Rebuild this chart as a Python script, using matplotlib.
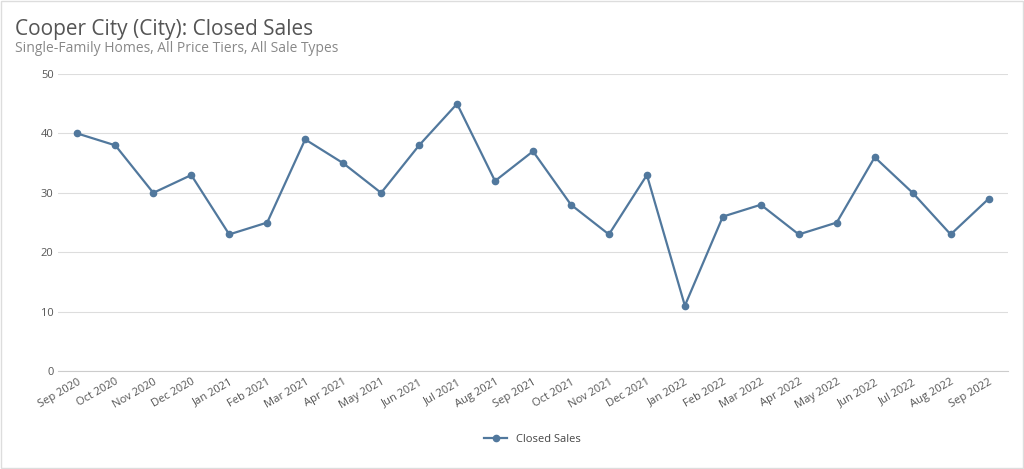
import matplotlib.pyplot as plt

months = ["Sep 2020", "Oct 2020", "Nov 2020", "Dec 2020", "Jan 2021", "Feb 2021", "Mar 2021",
          "Apr 2021", "May 2021", "Jun 2021", "Jul 2021", "Aug 2021", "Sep 2021", "Oct 2021",
          "Nov 2021", "Dec 2021", "Jan 2022", "Feb 2022", "Mar 2022", "Apr 2022", "May 2022",
          "Jun 2022", "Jul 2022", "Aug 2022", "Sep 2022"]
closed_sales = [40, 38, 30, 33, 23, 25, 39, 35, 30, 38, 45, 32, 37, 28, 23, 33, 11, 26, 28, 23,
                25, 36, 30, 23, 29]
y_ticks = [0, 10, 20, 30, 40, 50]

plt.rcParams["font.family"] = "Open Sans"
fig = plt.figure(figsize=(10.24, 4.69), dpi=100)
ax = fig.add_axes([0.057, 0.209, 0.927, 0.633])

x = range(len(months))
ax.plot(x, closed_sales, color="#51789d", lw=1.6, marker="o", ms=4.5, label="Closed Sales")
ax.set_xlim(-0.5, len(months) - 0.5)
ax.set_ylim(0, 50)
ax.set_yticks(y_ticks)
ax.set_xticks(list(x))
ax.set_xticklabels(months, rotation=30, ha="right", rotation_mode="anchor", fontsize=8, color="#555555")
ax.tick_params(axis="y", labelsize=8, labelcolor="#555555", length=0)
ax.tick_params(axis="x", length=0, pad=4)
ax.grid(axis="y", color="#dddddd", lw=0.8)
ax.set_axisbelow(True)
for s in ["top", "right", "left"]:
    ax.spines[s].set_visible(False)
ax.spines["bottom"].set_color("#cccccc")

fig.text(0.015, 0.925, "Cooper City (City): Closed Sales", fontsize=15, color="#555555")
fig.text(0.015, 0.89, "Single-Family Homes, All Price Tiers, All Sale Types", fontsize=10,
         color="#888888")
fig.legend(loc="lower center", bbox_to_anchor=(0.52, 0.03), frameon=False, fontsize=8,
           labelcolor="#444444")
fig.patches.append(plt.Rectangle((0.001, 0.002), 0.998, 0.996, transform=fig.transFigure,
                                 fill=False, ec="#dddddd", lw=1))

fig.savefig("out.png", dpi=100)
